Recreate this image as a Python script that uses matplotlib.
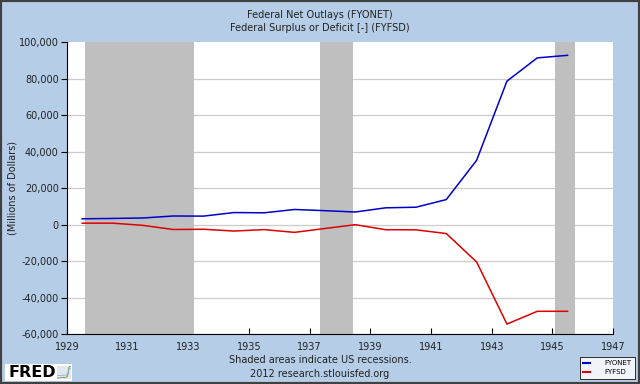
import matplotlib
matplotlib.use("Agg")
import matplotlib.pyplot as plt
from matplotlib.patches import Rectangle
from matplotlib.ticker import FuncFormatter

# fiscal years, plotted mid-year like the FRED graph
years = [1929, 1930, 1931, 1932, 1933, 1934, 1935, 1936, 1937,
         1938, 1939, 1940, 1941, 1942, 1943, 1944, 1945]
# millions of dollars
fyonet = [3127, 3320, 3577, 4659, 4598, 6541, 6412, 8228, 7580,
          6840, 9141, 9468, 13653, 35137, 78555, 91304, 92712]
fyfsd = [734, 738, -462, -2735, -2602, -3586, -2803, -4304, -2193,
         -89, -2846, -2920, -4941, -20503, -54554, -47557, -47553]

# recession start / end (decimal years)
rec_start = [1929.58, 1937.33, 1945.08]
rec_end = [1933.17, 1938.42, 1945.75]

xticks = [1929, 1931, 1933, 1935, 1937, 1939, 1941, 1943, 1945, 1947]
yticks = [-60000, -40000, -20000, 0, 20000, 40000, 60000, 80000, 100000]

bg = '#b5cde6'
fig = plt.figure(figsize=(6.4, 3.84), dpi=100, facecolor=bg)
ax = fig.add_axes([0.1047, 0.1302, 0.8533, 0.7604])
ax.set_facecolor('white')

x = [y + 0.5 for y in years]

for s, e in zip(rec_start, rec_end):
    ax.axvspan(s, e, color='#bfbfbf', lw=0, zorder=1)

ax.plot(x, fyonet, color='#0000cc', lw=1.1, zorder=3, label='FYONET')
ax.plot(x, fyfsd, color='#dd0000', lw=1.1, zorder=3, label='FYFSD')

ax.set_xlim(1929, 1947)
ax.set_ylim(-60000, 100000)
ax.set_xticks(xticks)
ax.set_yticks(yticks)
ax.yaxis.set_major_formatter(FuncFormatter(lambda v, p: f'{int(v):,}'))
ax.grid(axis='y', color='#cccccc', lw=0.9, zorder=0)
ax.set_axisbelow(True)
# no grid line along the top edge
ax.yaxis.get_gridlines()[-1].set_visible(False)

for sp in ['top', 'right']:
    ax.spines[sp].set_visible(False)
for sp in ['left', 'bottom']:
    ax.spines[sp].set_color('black')
    ax.spines[sp].set_linewidth(0.8)

ax.tick_params(axis='y', direction='out', length=4, width=0.8,
               labelsize=7, colors='black', pad=2)
ax.tick_params(axis='x', direction='in', length=4, width=0.8,
               labelsize=7, colors='black', pad=6)
for lab in ax.get_xticklabels() + ax.get_yticklabels():
    lab.set_color('#222222')

fig.text(0.5, 0.975, 'Federal Net Outlays (FYONET)', ha='center', va='top',
         fontsize=7, color='#222222')
fig.text(0.5, 0.94, 'Federal Surplus or Deficit [-] (FYFSD)', ha='center',
         va='top', fontsize=7, color='#222222')
fig.text(0.019, 0.51, '(Millions of Dollars)', rotation=90, ha='center',
         va='center', fontsize=7, color='#222222')

fig.text(0.5, 0.062, 'Shaded areas indicate US recessions.', ha='center',
         va='center', fontsize=7, color='#222222')
fig.text(0.5, 0.026, '2012 research.stlouisfed.org', ha='center',
         va='center', fontsize=7, color='#222222')

# FRED logo with a tiny chart icon
fig.patches.append(Rectangle((0.008, 0.008), 0.105, 0.044,
                             transform=fig.transFigure, facecolor='white',
                             edgecolor='none', zorder=0))
fig.text(0.013, 0.029, 'FRED', ha='left', va='center', fontsize=11.5,
         fontweight='bold', color='black')
icon = fig.add_axes([0.089, 0.014, 0.022, 0.034])
icon.set_zorder(5)
icon.set_facecolor('#e4e8ee')
icon.plot(years, fyonet, color='#6aa84f', lw=0.7)
icon.plot(years, [v * 0.6 + 20000 for v in fyonet], color='#7f9fd0', lw=0.5)
icon.set_xticks([])
icon.set_yticks([])
for sp in icon.spines.values():
    sp.set_visible(False)

leg = fig.legend(loc='lower right', bbox_to_anchor=(0.997, 0.005),
                 fontsize=5, frameon=True, fancybox=False,
                 handlelength=1.0, borderpad=0.5, labelspacing=0.45,
                 handletextpad=2.0)
leg.get_frame().set_edgecolor('black')
leg.get_frame().set_linewidth(0.7)
for h in leg.legend_handles:
    h.set_linewidth(1.5)

fig.patches.append(Rectangle((0, 0), 1, 1, transform=fig.transFigure,
                             fill=False, edgecolor='#404040', lw=3))

fig.savefig('out.png', dpi=100, facecolor=bg)
